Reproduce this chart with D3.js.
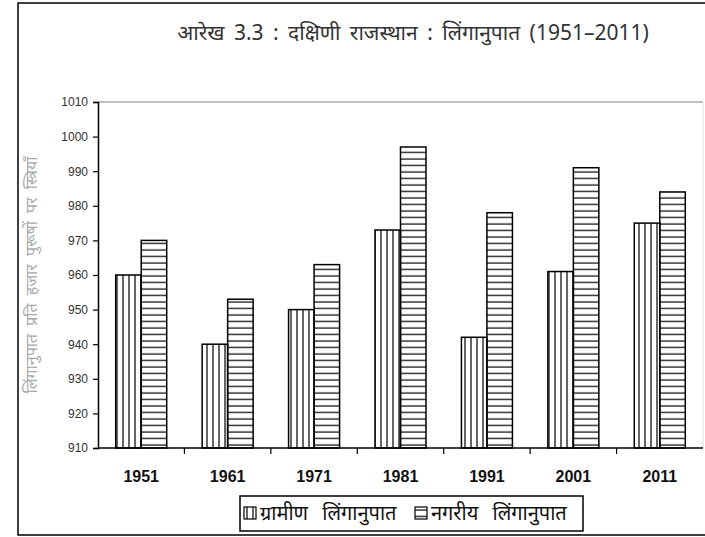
<!DOCTYPE html>
<html>
<head>
<meta charset="utf-8">
<script src="https://cdn.jsdelivr.net/npm/d3@7"></script>
<style>
  body { margin: 0; background: #fff; }
  svg { display: block; }
</style>
</head>
<body>
<div id="chart"></div>
<script>
var years = ["1951", "1961", "1971", "1981", "1991", "2001", "2011"];
var rural = [960, 940, 950, 973, 942, 961, 975];
var urban = [970, 953, 963, 997, 978, 991, 984];
var yTicks = [910, 920, 930, 940, 950, 960, 970, 980, 990, 1000, 1010];
var seriesNames = ["ग्रामीण लिंगानुपात", "नगरीय लिंगानुपात"];

var Chart = (function() {

    var width = 705, height = 537;
    var hindi = "'Noto Sans', 'Lohit Devanagari', 'Mangal', sans-serif";
    var latin = "Arial, 'Liberation Sans', sans-serif";
    var plotLeft = 98, plotRight = 703, plotTop = 102, plotBottom = 448;
    var barW = 25.5;

    function patterns(svg) {
        var defs = svg.append("defs");
        defs.append("pattern")
            .attr("id", "vlines")
            .attr("patternUnits", "userSpaceOnUse")
            .attr("width", 6).attr("height", 6)
          .append("line")
            .attr("x1", 3).attr("x2", 3).attr("y1", 0).attr("y2", 6)
            .attr("stroke", "#000").attr("stroke-width", 1.2);
        defs.append("pattern")
            .attr("id", "hlines")
            .attr("patternUnits", "userSpaceOnUse")
            .attr("width", 6).attr("height", 6.5)
          .append("line")
            .attr("x1", 0).attr("x2", 6).attr("y1", 3).attr("y2", 3)
            .attr("stroke", "#000").attr("stroke-width", 1.2);
    }

    function draw() {
        var svg = d3.select("#chart").append("svg")
            .attr("width", width)
            .attr("height", height);

        patterns(svg);

        // outer frame
        svg.append("rect")
            .attr("x", 18).attr("y", 3)
            .attr("width", 700).attr("height", 532)
            .attr("fill", "none").attr("stroke", "#000").attr("stroke-width", 1.5);

        svg.append("text")
            .attr("x", 413).attr("y", 40)
            .attr("text-anchor", "middle")
            .attr("font-family", hindi)
            .attr("font-size", 21)
            .attr("word-spacing", 4)
            .attr("fill", "#333")
            .text("आरेख 3.3 : दक्षिणी राजस्थान : लिंगानुपात (1951–2011)");

        var x = d3.scaleBand().domain(years).range([plotLeft, plotRight]).padding(0);
        var y = d3.scaleLinear().domain([910, 1010]).range([plotBottom, plotTop]);

        // plot border (grey)
        svg.append("line")
            .attr("x1", plotLeft).attr("x2", plotRight)
            .attr("y1", plotTop).attr("y2", plotTop)
            .attr("stroke", "#aaa").attr("stroke-width", 1.5);
        svg.append("line")
            .attr("x1", plotRight).attr("x2", plotRight)
            .attr("y1", plotTop).attr("y2", plotBottom)
            .attr("stroke", "#ddd").attr("stroke-width", 1);

        var groups = svg.selectAll(".year")
            .data(years)
            .enter().append("g")
            .attr("class", "year");

        groups.append("rect")
            .attr("x", function(d) { return x(d) + x.bandwidth() / 2 - barW; })
            .attr("y", function(d, i) { return y(rural[i]); })
            .attr("width", barW)
            .attr("height", function(d, i) { return plotBottom - y(rural[i]); })
            .attr("fill", "url(#vlines)")
            .attr("stroke", "#000").attr("stroke-width", 1.5);

        groups.append("rect")
            .attr("x", function(d) { return x(d) + x.bandwidth() / 2; })
            .attr("y", function(d, i) { return y(urban[i]); })
            .attr("width", barW)
            .attr("height", function(d, i) { return plotBottom - y(urban[i]); })
            .attr("fill", "url(#hlines)")
            .attr("stroke", "#000").attr("stroke-width", 1.5);

        // y axis
        var yAxis = svg.append("g")
            .attr("transform", "translate(" + plotLeft + ",0)")
            .call(d3.axisLeft(y).tickValues(yTicks).tickFormat(d3.format("d"))
                .tickSize(5).tickPadding(5));
        yAxis.select(".domain").attr("stroke", "#000").attr("stroke-width", 1.5);
        yAxis.selectAll(".tick line").attr("stroke", "#000").attr("stroke-width", 1.2);
        yAxis.selectAll("text")
            .attr("font-family", latin)
            .attr("font-size", 12).attr("fill", "#333");

        // x axis: baseline with ticks at band edges
        var xAxis = svg.append("g")
            .attr("transform", "translate(0," + plotBottom + ")");
        xAxis.append("line")
            .attr("x1", plotLeft).attr("x2", plotRight)
            .attr("stroke", "#000").attr("stroke-width", 1.5);
        xAxis.selectAll(".edge")
            .data(years.slice(1))
            .enter().append("line")
            .attr("class", "edge")
            .attr("x1", function(d) { return x(d); })
            .attr("x2", function(d) { return x(d); })
            .attr("y1", 0).attr("y2", 6)
            .attr("stroke", "#000").attr("stroke-width", 1.2);
        xAxis.selectAll(".lbl")
            .data(years)
            .enter().append("text")
            .attr("class", "lbl")
            .attr("x", function(d) { return x(d) + x.bandwidth() / 2; })
            .attr("y", 34)
            .attr("text-anchor", "middle")
            .attr("font-family", latin)
            .attr("font-weight", "bold")
            .attr("font-size", 16)
            .attr("fill", "#111")
            .text(function(d) { return d; });

        // y axis title
        svg.append("text")
            .attr("transform", "translate(37," + (plotTop + plotBottom) / 2 + ") rotate(-90)")
            .attr("text-anchor", "middle")
            .attr("font-family", hindi)
            .attr("font-size", 16)
            .attr("word-spacing", 4)
            .attr("fill", "#aaa")
            .text("लिंगानुपात प्रति हजार पुरूषों पर स्त्रियाँ");

        // legend
        var legend = svg.append("g").attr("transform", "translate(240,496)");
        legend.append("rect")
            .attr("width", 343).attr("height", 35)
            .attr("fill", "#fff").attr("stroke", "#000").attr("stroke-width", 1.5);
        var items = [
            { name: seriesNames[0], fill: "url(#vlines)", x: 4 },
            { name: seriesNames[1], fill: "url(#hlines)", x: 175 }
        ];
        var li = legend.selectAll(".item")
            .data(items)
            .enter().append("g")
            .attr("transform", function(d) { return "translate(" + d.x + ",11)"; });
        li.append("rect")
            .attr("width", 12).attr("height", 12)
            .attr("fill", function(d) { return d.fill; })
            .attr("stroke", "#000").attr("stroke-width", 1.2);
        li.append("text")
            .attr("x", 16).attr("y", 13)
            .attr("font-family", hindi)
            .attr("font-size", 20)
            .attr("word-spacing", 9)
            .attr("fill", "#111")
            .text(function(d) { return d.name; });
    }

    return { "draw": draw };

})();

Chart.draw();
</script>
</body>
</html>
